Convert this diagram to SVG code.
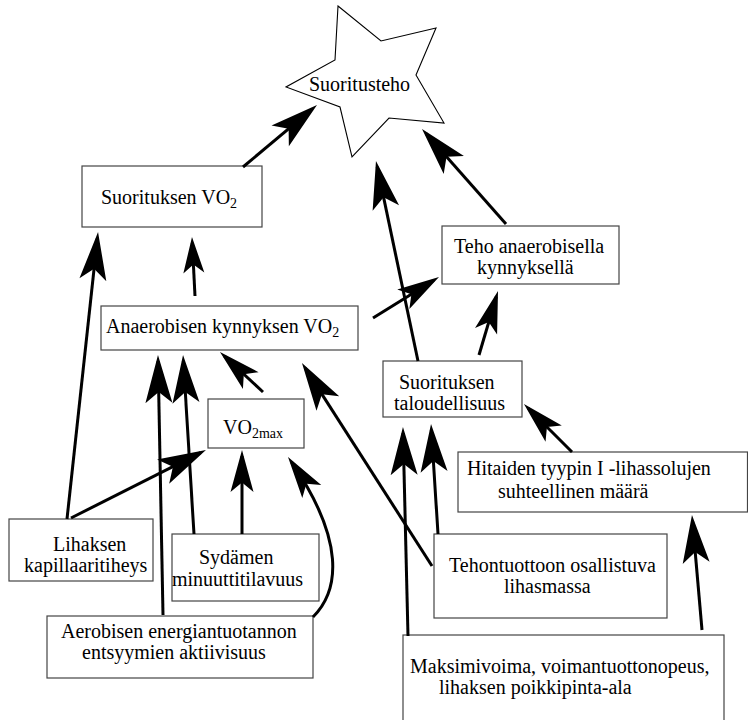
<svg xmlns="http://www.w3.org/2000/svg" width="748" height="720" viewBox="0 0 748 720">
<style>
.box{fill:#fff;stroke:#444;stroke-width:1.2}
.star{fill:#fff;stroke:#000;stroke-width:1.1;stroke-linejoin:miter}
.t{font-family:'Liberation Serif','DejaVu Serif','Times New Roman',serif;font-size:20px;fill:#000}
.sub{font-size:14px}
.c{fill:none;stroke:#000;stroke-width:3}
.cl{marker-end:url(#ahL)}
.cm{marker-end:url(#ahM)}
.cs{marker-end:url(#ahS)}
</style>
<defs>
<marker id="ahL" markerUnits="userSpaceOnUse" orient="auto" refX="0" refY="0" markerWidth="60" markerHeight="30" overflow="visible"><path d="M6,0 L-42,-13.5 L-31,0 L-42,13.5 Z" fill="#000"/></marker>
<marker id="ahM" markerUnits="userSpaceOnUse" orient="auto" refX="0" refY="0" markerWidth="60" markerHeight="30" overflow="visible"><path d="M6,0 L-36,-11.5 L-26.5,0 L-36,11.5 Z" fill="#000"/></marker>
<marker id="ahS" markerUnits="userSpaceOnUse" orient="auto" refX="0" refY="0" markerWidth="60" markerHeight="30" overflow="visible"><path d="M6,0 L-30,-10.5 L-21.5,0 L-30,10.5 Z" fill="#000"/></marker>
</defs>

<g id="n-suoritusteho">
<polygon class="star" points="338,6 381,41 436,28 416,75 444,123 389,118 352,157 340,107 286,87 335,60"/>
<text class="t" x="309" y="91">Suoritusteho</text>
</g>
<g id="n-suorituksen-vo2">
<rect class="box" x="82" y="166" width="180" height="61"/>
<text class="t" x="101" y="204">Suorituksen VO<tspan class="sub" dy="4">2</tspan></text>
</g>
<g id="n-anaerobisen-kynnyksen-vo2">
<rect class="box" x="101" y="306" width="257" height="44"/>
<text class="t" x="106" y="333">Anaerobisen kynnyksen VO<tspan class="sub" dy="4">2</tspan></text>
</g>
<g id="n-teho-anaerobisella">
<rect class="box" x="442" y="226" width="177" height="58"/>
<text class="t" x="454" y="253">Teho anaerobisella</text>
<text class="t" x="477" y="274">kynnyksellä</text>
</g>
<g id="n-taloudellisuus">
<rect class="box" x="383" y="361" width="139" height="56"/>
<text class="t" x="399" y="389">Suorituksen</text>
<text class="t" x="394" y="410">taloudellisuus</text>
</g>
<g id="n-vo2max">
<rect class="box" x="208" y="399" width="96" height="49"/>
<text class="t" x="223" y="434">VO<tspan class="sub" dy="4">2max</tspan></text>
</g>
<g id="n-lihaksen-kapillaaritiheys">
<rect class="box" x="9" y="519" width="144" height="62"/>
<text class="t" x="53" y="551">Lihaksen</text>
<text class="t" x="24" y="572">kapillaaritiheys</text>
</g>
<g id="n-sydamen-minuuttitilavuus">
<rect class="box" x="172" y="534" width="147" height="67"/>
<text class="t" x="199" y="564">Sydämen</text>
<text class="t" x="172" y="586">minuuttitilavuus</text>
</g>
<g id="n-aerobisen">
<rect class="box" x="47" y="616" width="266" height="62"/>
<text class="t" x="61" y="638">Aerobisen energiantuotannon</text>
<text class="t" x="82" y="659">entsyymien aktiivisuus</text>
</g>
<g id="n-hitaiden">
<rect class="box" x="458" y="452" width="289.5" height="60"/>
<text class="t" x="467" y="475">Hitaiden tyypin I -lihassolujen</text>
<text class="t" x="498" y="498">suhteellinen määrä</text>
</g>
<g id="n-tehontuottoon">
<rect class="box" x="434" y="534" width="233" height="84"/>
<text class="t" x="449" y="572">Tehontuottoon osallistuva</text>
<text class="t" x="504" y="593">lihasmassa</text>
</g>
<g id="n-maksimivoima">
<rect class="box" x="403" y="635" width="321" height="100"/>
<text class="t" x="410" y="673">Maksimivoima, voimantuottonopeus,</text>
<text class="t" x="439" y="694">lihaksen poikkipinta-ala</text>
</g>

<g id="connectors">
<path class="c cl" d="M243,167 L312.4,108.9"/>
<path class="c cl" d="M506,224 L426,133.5"/>
<path class="c cl" d="M418,361 L377.2,166.9"/>
<path class="c cs" d="M195,296 L192.3,243"/>
<path class="c cl" d="M67,519 L97.4,238"/>
<path class="c cm" d="M373,318 L433.9,280.2"/>
<path class="c cm" d="M479,355 L496.3,296.7"/>
<path class="c cm" d="M263,392 L224.4,356.1"/>
<path class="c cl" d="M163,615 L158.1,361"/>
<path class="c cl" d="M194,534 L183.4,361"/>
<path class="c cl" d="M71,518 L200.6,452.7"/>
<path class="c cm" d="M242,534 L242,456"/>
<path class="c cm" d="M313,617 C340,590 345,540 291.4,461.9"/>
<path class="c cl" d="M432,566 L305.2,368.1"/>
<path class="c cl" d="M408,636 L403.1,433"/>
<path class="c cl" d="M438,534 L431.4,430"/>
<path class="c cm" d="M572,452 L528.2,408.2"/>
<path class="c cl" d="M702,630 L692.5,521"/>
</g>
</svg>
